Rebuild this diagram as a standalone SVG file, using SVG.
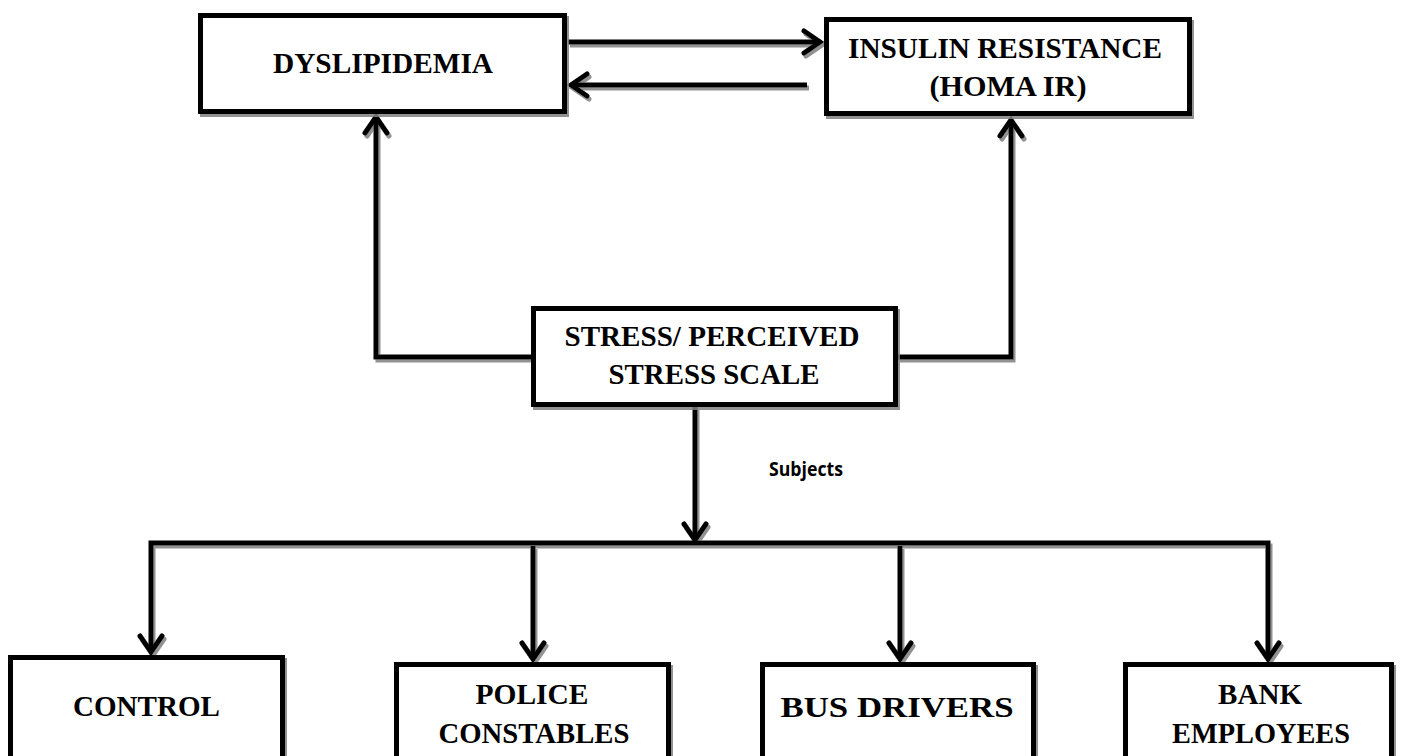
<svg xmlns="http://www.w3.org/2000/svg" width="1405" height="756" viewBox="0 0 1405 756">
<style>
.box{fill:#fff;stroke:#000;stroke-width:5}
.lbl{font-family:"Liberation Serif","Times New Roman",serif;font-weight:bold;font-size:29px;fill:#000;text-anchor:middle}
.sub{font-family:"Open Sans","Noto Sans",sans-serif;font-weight:bold;font-size:20px;fill:#000}
.con{fill:none;stroke:#000;stroke-width:5;stroke-linejoin:miter}
</style>
<defs>
<filter id="sh" x="-5%" y="-5%" width="110%" height="110%">
<feDropShadow dx="2" dy="3" stdDeviation="0.6" flood-color="#7f7f7f" flood-opacity="0.85"/>
</filter>
<marker id="ah" markerUnits="userSpaceOnUse" markerWidth="30" markerHeight="30" viewBox="-20 -15 25 30" refX="0" refY="0" orient="auto-start-reverse" overflow="visible">
<path d="M-16,-11 L0,0 L-16,11" fill="none" stroke="#000" stroke-width="5" stroke-linecap="round" stroke-linejoin="miter"/>
</marker>
</defs>
<g id="connectors" filter="url(#sh)">
<path class="con" d="M568,42 H820" marker-end="url(#ah)"/>
<path class="con" d="M807,85 H571" marker-end="url(#ah)"/>
<path class="con" d="M531,357 H376 V117" marker-end="url(#ah)"/>
<path class="con" d="M898,357 H1011 V120" marker-end="url(#ah)"/>
<path class="con" d="M695,407 V540" marker-end="url(#ah)"/>
<path class="con" d="M151,652 V543 H1268 V659" marker-start="url(#ah)" marker-end="url(#ah)"/>
<path class="con" d="M533,546 V659" marker-end="url(#ah)"/>
<path class="con" d="M900,546 V659" marker-end="url(#ah)"/>
</g>
<g id="dyslipidemia">
<rect class="box" x="200.5" y="15.5" width="364" height="96" filter="url(#sh)"/>
<text class="lbl" x="383" y="73" textLength="220" lengthAdjust="spacingAndGlyphs">DYSLIPIDEMIA</text>
</g>
<g id="insulin">
<rect class="box" x="826.5" y="19.5" width="363" height="94" filter="url(#sh)"/>
<text class="lbl" x="1005" y="58" textLength="314" lengthAdjust="spacingAndGlyphs">INSULIN RESISTANCE</text>
<text class="lbl" x="1008" y="96" textLength="157" lengthAdjust="spacingAndGlyphs">(HOMA IR)</text>
</g>
<g id="stress">
<rect class="box" x="533.5" y="308.5" width="362" height="96" filter="url(#sh)"/>
<text class="lbl" x="712" y="346" textLength="295" lengthAdjust="spacingAndGlyphs">STRESS/ PERCEIVED</text>
<text class="lbl" x="714" y="384" textLength="211" lengthAdjust="spacingAndGlyphs">STRESS SCALE</text>
</g>
<g id="subjects-label">
<text class="sub" x="769" y="476" textLength="74" lengthAdjust="spacingAndGlyphs">Subjects</text>
</g>
<g id="control">
<rect class="box" x="10.5" y="657.5" width="272" height="120" filter="url(#sh)"/>
<text class="lbl" x="146.5" y="716" textLength="147" lengthAdjust="spacingAndGlyphs">CONTROL</text>
</g>
<g id="police">
<rect class="box" x="396.5" y="664.5" width="272" height="120" filter="url(#sh)"/>
<text class="lbl" x="532" y="704" textLength="113" lengthAdjust="spacingAndGlyphs">POLICE</text>
<text class="lbl" x="534" y="743" textLength="191" lengthAdjust="spacingAndGlyphs">CONSTABLES</text>
</g>
<g id="bus">
<rect class="box" x="762.5" y="664.5" width="271" height="120" filter="url(#sh)"/>
<text class="lbl" x="897" y="717" textLength="233" lengthAdjust="spacingAndGlyphs">BUS DRIVERS</text>
</g>
<g id="bank">
<rect class="box" x="1125.5" y="664.5" width="266" height="120" filter="url(#sh)"/>
<text class="lbl" x="1260" y="704" textLength="84" lengthAdjust="spacingAndGlyphs">BANK</text>
<text class="lbl" x="1261" y="743" textLength="178" lengthAdjust="spacingAndGlyphs">EMPLOYEES</text>
</g>
</svg>
